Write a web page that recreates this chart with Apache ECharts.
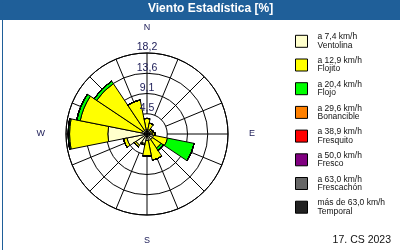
<!DOCTYPE html>
<html><head><meta charset="utf-8">
<script src="https://cdn.jsdelivr.net/npm/echarts@6/dist/echarts.min.js"></script>
<style>html,body{margin:0;padding:0;background:#fff}#c{width:400px;height:250px}</style>
</head><body><div id="c"></div>
<script>
// ---- data ----
const directions = ['N','NNE','NE','ENE','E','ESE','SE','SSE','S','SSW','SW','WSW','W','WNW','NW','NNW'];
const ventolina  = [1.0,1.0,1.0,1.0,1.2,1.5,1.5,1.5,1.5,2.2,3.0,4.6,8.8,1.2,1.0,1.0];
const flojito    = [2.5,1.5,0.4,0.5,0.6,3.2,2.3,4.5,3.5,0.3,0.5,0.8,8.6,14.1,12.6,6.8];
const flojo      = [0,0,0,0,0,6.1,0.6,0,0,0,0,0,0.3,0.8,0.7,0];
const bonancible = [0,0,0,0,0,0,0,0,0,0,0,0,0,0,0,0];
const fresquito  = [0,0,0,0,0,0,0,0,0,0,0,0,0,0,0,0];
const fresco     = [0,0,0,0,0,0,0,0,0,0,0,0,0,0,0,0];
const frescachon = [0,0,0,0,0,0,0,0,0,0,0,0,0,0,0,0];
const temporal   = [0,0,0,0,0,0,0,0,0,0,0,0,0,0,0,0];
const speedLabels = ['a 7,4 km/h','a 12,9 km/h','a 20,4 km/h','a 29,6 km/h','a 38,9 km/h','a 50,0 km/h','a 63,0 km/h','más de 63,0 km/h'];
const classNames  = ['Ventolina','Flojito','Flojo','Bonancible','Fresquito','Fresco','Frescachón','Temporal'];
const classColors = ['#ffffcc','#ffff00','#00ff00','#ff8000','#ff0000','#800080','#666666','#222222'];
const radiusMax = 18.2;
const radiusTicks = ['', '4,5', '9,1', '13,6', '18,2'];
const compass = {0:'N', 90:'E', 180:'S', 270:'W'};
const titleText = 'Viento Estadística [%]';
const dateText = '17. CS 2023';

const seriesData = [ventolina, flojito, flojo, bonancible, fresquito, fresco, frescachon, temporal];
const FONT = 'Liberation Sans';
const CENTER = [147, 134];
const R = 81;

const chart = echarts.init(document.getElementById('c'), null, {renderer: 'canvas'});
chart.setOption({
  animation: false,
  backgroundColor: '#fff',
  graphic: [
    {type: 'rect', left: 0, top: 0, shape: {x: 0, y: 0, width: 400, height: 20}, style: {fill: '#1f5f99'}, z: 0},
    {type: 'rect', left: 0, top: 0, shape: {x: 0.5, y: 0.5, width: 399, height: 249}, style: {fill: null, stroke: '#1f5f99', lineWidth: 1}, z: 0}
  ],
  title: [
    {text: titleText, left: 148, top: 3, padding: 0,
     textStyle: {color: '#fff', fontSize: 12, fontWeight: 'bold', fontFamily: FONT}},
    {text: dateText, right: 9, top: 235, padding: 0,
     textStyle: {color: '#111', fontSize: 10.5, fontWeight: 'normal', fontFamily: FONT}}
  ],
  legend: {
    orient: 'vertical', left: 295, top: 30, padding: 0,
    itemWidth: 12, itemHeight: 12, itemGap: 1.1, icon: 'rect',
    selectedMode: false,
    data: speedLabels,
    itemStyle: {borderColor: '#000', borderWidth: 1},
    formatter: name => name + '\n' + classNames[speedLabels.indexOf(name)],
    textStyle: {fontSize: 8.5, lineHeight: 8.3, color: '#111', fontFamily: FONT, padding: [6, 0, 0, 5]}
  },
  polar: [
    {center: CENTER, radius: [20, R]},
    {center: CENTER, radius: [0, R]},
    {center: CENTER, radius: [0, R]}
  ],
  angleAxis: [
    {polarIndex: 0, type: 'value', min: 0, max: 360, interval: 22.5, startAngle: 90, clockwise: true,
     axisLine: {show: false}, axisTick: {show: false},
     splitLine: {show: true, lineStyle: {color: '#000', width: 1}},
     axisLabel: {show: true, margin: 21, formatter: v => compass[v] || '', color: '#20205a', fontSize: 9, fontFamily: FONT}},
    {polarIndex: 1, type: 'category', data: directions, startAngle: 101.25, clockwise: true, boundaryGap: true,
     axisLine: {show: true, lineStyle: {color: '#000', width: 1}}, axisTick: {show: false},
     axisLabel: {show: false}, splitLine: {show: false}},
    {polarIndex: 2, type: 'value', min: 0, max: 360, startAngle: 90, show: false}
  ],
  radiusAxis: [
    {polarIndex: 0, type: 'value', min: 0, max: 1, axisLine: {show: false}, axisTick: {show: false},
     axisLabel: {show: false}, splitLine: {show: false}},
    {polarIndex: 1, type: 'value', min: 0, max: radiusMax, interval: radiusMax / 4,
     axisLine: {show: false}, axisTick: {show: false}, axisLabel: {show: false},
     splitLine: {show: true, lineStyle: {color: '#000', width: 1}}},
    {polarIndex: 2, type: 'value', min: 0, max: radiusMax, interval: radiusMax / 4, angle: 90, z: 10,
     axisLine: {show: false}, axisTick: {show: false}, splitLine: {show: false},
     axisLabel: {show: true, margin: 0, align: 'center', verticalAlign: 'bottom', rotate: 0,
       formatter: (v, i) => radiusTicks[i] || '', color: '#20205a', fontSize: 10.5, fontFamily: FONT}}
  ],
  series: seriesData.map((d, i) => ({
    type: 'bar', name: speedLabels[i], coordinateSystem: 'polar', polarIndex: 1,
    stack: 'wind', data: d, barCategoryGap: '0%',
    itemStyle: {color: classColors[i], borderColor: '#000', borderWidth: 1},
    emphasis: {disabled: true}, silent: true
  }))
});
</script></body></html>
